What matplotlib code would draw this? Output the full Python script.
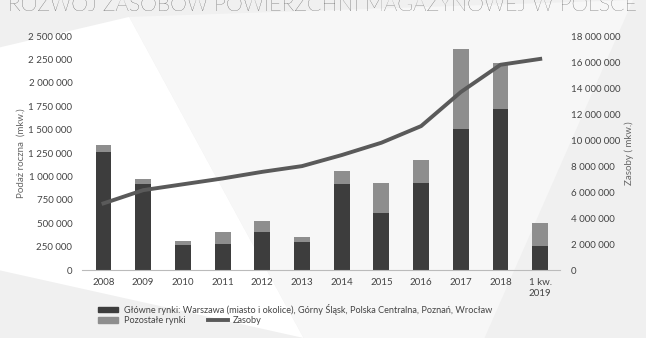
import matplotlib.pyplot as plt
from matplotlib.patches import Polygon
from matplotlib.lines import Line2D
from matplotlib.patches import Patch
from matplotlib.ticker import FuncFormatter

# dane
lata = ["2008", "2009", "2010", "2011", "2012", "2013", "2014", "2015",
        "2016", "2017", "2018", "1 kw.\n2019"]
glowne_rynki = [1264000, 916000, 267000, 274000, 409000, 303000, 916000,
                606000, 926000, 1503000, 1723000, 256000]
pozostale_rynki = [71000, 56000, 46000, 129000, 118000, 46000, 142000,
                   327000, 246000, 855000, 485000, 249000]
zasoby = [5130000, 6150000, 6600000, 7050000, 7560000, 8000000, 8850000,
          9800000, 11080000, 13700000, 15800000, 16250000]

plt.rcParams['font.family'] = ['Lato', 'DejaVu Sans']

fig = plt.figure(figsize=(6.46, 3.38), dpi=100)
fig.patch.set_facecolor("#f0f0f0")

# tło - jasne trójkąty
fig.patches.append(Polygon([[0, 0.86], [0, 0.2], [0.47, 0.0], [0.2, 0.95]], closed=True,
                           transform=fig.transFigure, facecolor="white", edgecolor="none", zorder=-10))
fig.patches.append(Polygon([[0.2, 0.95], [0.47, 0.0], [0.75, 0.0], [0.98, 1.0]], closed=True,
                           transform=fig.transFigure, facecolor="#f7f7f7", edgecolor="none", zorder=-10))

ax = fig.add_axes([0.127, 0.201, 0.74, 0.692])
ax.patch.set_alpha(0)
x = list(range(len(lata)))

ax.bar(x, glowne_rynki, width=0.4, color="#3d3d3d", zorder=2)
ax.bar(x, pozostale_rynki, width=0.4, bottom=glowne_rynki, color="#8e8e8e", zorder=2)

ax.set_xlim(-0.54, 11.5)
ax.set_ylim(0, 2500000)
ax.set_yticks(range(0, 2500001, 250000))
fmt = FuncFormatter(lambda v, p: f"{int(v):,}".replace(",", " "))
ax.yaxis.set_major_formatter(fmt)
ax.set_xticks(x)
ax.set_xticklabels(lata, fontsize=7, color="#444444")
ax.tick_params(axis="y", length=0, labelsize=7, labelcolor="#444444", pad=7)
ax.tick_params(axis="x", length=0, pad=6)
for s in ["top", "right", "left"]:
    ax.spines[s].set_visible(False)
ax.spines["bottom"].set_color("#bbbbbb")
ax.set_ylabel("Podaż roczna  (mkw.)", fontsize=7, color="#666666", labelpad=2)

ax2 = ax.twinx()
ax2.plot(x, zasoby, color="#5a5a5a", linewidth=2.8, zorder=3)
ax2.set_ylim(0, 18000000)
ax2.set_yticks(range(0, 18000001, 2000000))
ax2.yaxis.set_major_formatter(fmt)
ax2.tick_params(axis="y", length=0, labelsize=7, labelcolor="#444444", pad=8)
for s in ["top", "right", "left", "bottom"]:
    ax2.spines[s].set_visible(False)
ax2.set_ylabel("Zasoby ( mkw.)", fontsize=7, color="#666666", labelpad=3)

fig.text(0.5, 0.985, "ROZWÓJ ZASOBÓW POWIERZCHNI MAGAZYNOWEJ W POLSCE",
         ha="center", va="center", fontsize=15.3, fontweight="light", color="#222222")

fig.legend([Patch(color="#3d3d3d")],
           ["Główne rynki: Warszawa (miasto i okolice), Górny Śląsk, Polska Centralna, Poznań, Wrocław"],
           loc="upper left", bbox_to_anchor=(0.145, 0.115), frameon=False, fontsize=6.6,
           handlelength=2.2, handleheight=0.6, handletextpad=0.6, borderpad=0, labelcolor="#444444")
fig.legend([Patch(color="#8e8e8e"), Line2D([], [], color="#5a5a5a", linewidth=2.8)],
           ["Pozostałe rynki", "Zasoby"], ncol=2, columnspacing=2.4,
           loc="upper left", bbox_to_anchor=(0.145, 0.078), frameon=False, fontsize=6.6,
           handlelength=2.2, handleheight=0.6, handletextpad=0.6, borderpad=0, labelcolor="#444444")

fig.savefig("out.png", dpi=100, facecolor=fig.get_facecolor())
